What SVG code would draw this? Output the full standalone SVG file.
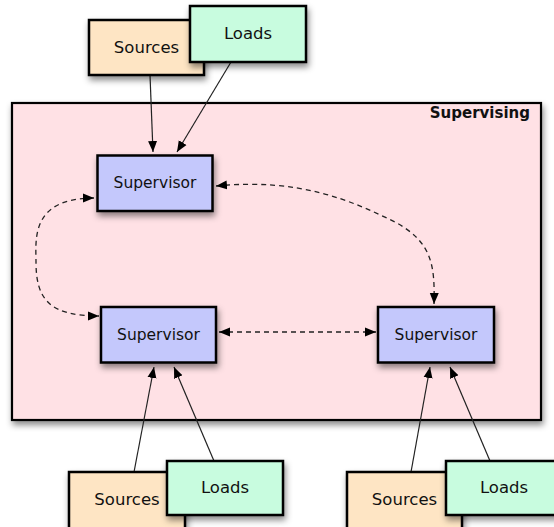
<svg xmlns="http://www.w3.org/2000/svg" width="554" height="527" viewBox="0 0 554 527">
  <defs>
    <filter id="sh" x="-20%" y="-20%" width="150%" height="160%">
      <feDropShadow dx="1.5" dy="4" stdDeviation="3" flood-color="#000" flood-opacity="0.45"/>
    </filter>
    <marker id="ah" markerUnits="userSpaceOnUse" markerWidth="12" markerHeight="10" viewBox="0 0 12 10" refX="11" refY="5" orient="auto-start-reverse">
      <path d="M0,0.5 L11,5 L0,9.5 z" fill="#000"/>
    </marker>
    <style>
      .box { stroke: #000; stroke-width: 2.5; filter: url(#sh); }
      .src { fill: #fee5c4; }
      .ld { fill: #c8fcdf; }
      .sup { fill: #c4c8fc; }
      .t { font-family: "DejaVu Sans", "Liberation Sans", sans-serif; font-size: 16.5px; fill: #111; text-anchor: middle; }
      .ts { font-size: 15.5px; }
      .solid { fill: none; stroke: #222; stroke-width: 1.2; marker-end: url(#ah); }
      .dash { fill: none; stroke: #222; stroke-width: 1.3; stroke-dasharray: 5 4; marker-start: url(#ah); marker-end: url(#ah); }
    </style>
  </defs>
  <rect width="554" height="527" fill="#fff"/>

  <g id="supervising">
    <rect x="12" y="103" width="529" height="317" fill="#ffe1e5" stroke="#000" stroke-width="2.2" filter="url(#sh)"/>
    <text x="530" y="118" font-family="DejaVu Sans, Liberation Sans, sans-serif" font-size="15" font-weight="bold" text-anchor="end" fill="#111">Supervising</text>
  </g>

  <g id="connectors">
    <path class="solid" d="M150,75 L153,152"/>
    <path class="solid" d="M231,62 L177,152"/>
    <path class="solid" d="M134,472 L154,367"/>
    <path class="solid" d="M214,461 L174,367"/>
    <path class="solid" d="M411,472 L430,367"/>
    <path class="solid" d="M490,461 L450,367"/>
    <path class="dash" d="M94,198 C30,198 36,240 36,262 C36,300 50,316 99,316"/>
    <path class="dash" d="M219,332 L376,332"/>
    <path class="dash" d="M216,186 C300,178 350,200 395,222 C432,242 435,265 434,304"/>
  </g>

  <g id="sources-top">
    <rect class="box src" x="89" y="20" width="115" height="55"/>
    <text class="t" x="146.5" y="53">Sources</text>
  </g>
  <g id="loads-top">
    <rect class="box ld" x="190" y="6" width="116" height="56"/>
    <text class="t" x="248" y="39">Loads</text>
  </g>

  <g id="supervisor-top">
    <rect class="box sup" x="97.5" y="155.5" width="115" height="55.5"/>
    <text class="t ts" x="155" y="187.5">Supervisor</text>
  </g>
  <g id="supervisor-left">
    <rect class="box sup" x="101" y="307" width="115" height="55.5"/>
    <text class="t ts" x="158.5" y="340">Supervisor</text>
  </g>
  <g id="supervisor-right">
    <rect class="box sup" x="378" y="307" width="116" height="55.5"/>
    <text class="t ts" x="436" y="340">Supervisor</text>
  </g>

  <g id="sources-bl">
    <rect class="box src" x="69" y="472" width="116" height="60"/>
    <text class="t" x="127" y="505">Sources</text>
  </g>
  <g id="loads-bl">
    <rect class="box ld" x="167" y="461" width="116" height="54"/>
    <text class="t" x="225" y="493">Loads</text>
  </g>
  <g id="sources-br">
    <rect class="box src" x="347" y="472" width="115" height="60"/>
    <text class="t" x="404.5" y="505">Sources</text>
  </g>
  <g id="loads-br">
    <rect class="box ld" x="446" y="461" width="116" height="54"/>
    <text class="t" x="504" y="493">Loads</text>
  </g>
</svg>
